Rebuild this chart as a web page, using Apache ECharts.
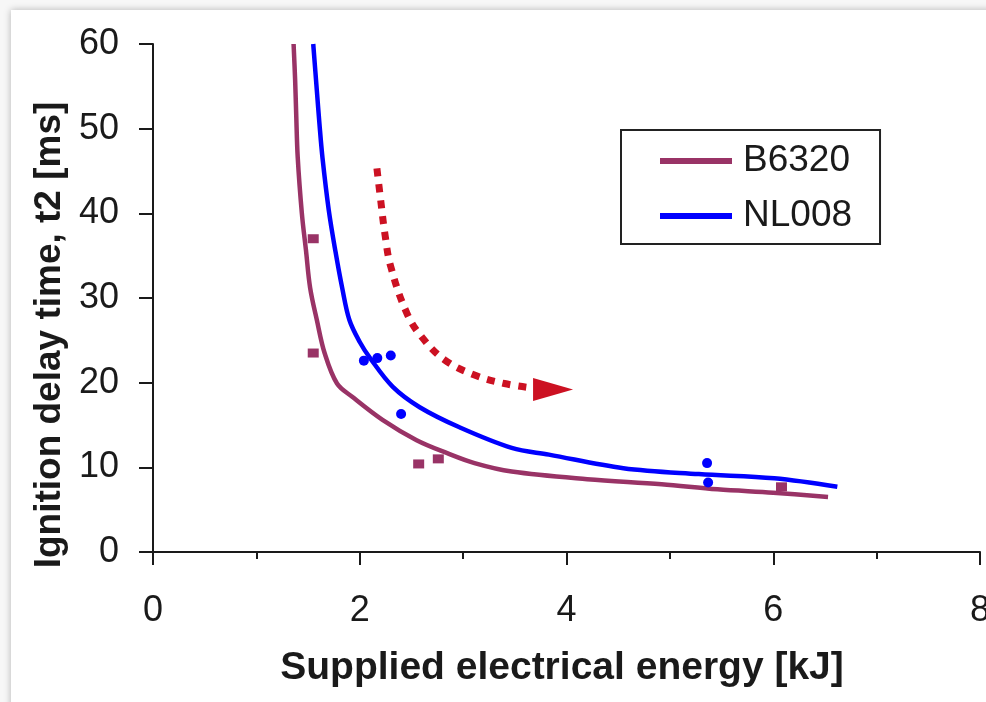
<!DOCTYPE html>
<html>
<head>
<meta charset="utf-8">
<script src="https://cdn.jsdelivr.net/npm/echarts@6/dist/echarts.min.js"></script>
<style>
  html, body { margin: 0; padding: 0; width: 986px; height: 702px; overflow: hidden; background: #f7f7f7; }
  #sheet { position: absolute; left: 11px; top: 10px; width: 1100px; height: 800px; background: #fff;
           box-shadow: 0 0 7px rgba(0, 0, 0, 0.28); }
  #chart { position: absolute; left: 0; top: 0; width: 986px; height: 702px; }
</style>
</head>
<body>
<div id="sheet"></div>
<div id="chart"></div>
<script>
// Fitted curves: ignition delay time t2 [ms] vs supplied electrical energy [kJ]
const b6320Fit = [
  [1.36, 60], [1.375, 55.7], [1.385, 51.8], [1.40, 46.6], [1.44, 40.0], [1.48, 35.6],
  [1.52, 31.2], [1.585, 27.4], [1.66, 23.5], [1.78, 19.9], [1.93, 18.3], [2.22, 15.6],
  [2.55, 13.2], [2.84, 11.7], [3.11, 10.5], [3.47, 9.5], [4.2, 8.6], [4.92, 8.0],
  [5.46, 7.4], [6.0, 7.0], [6.53, 6.5]
];
const nl008Fit = [
  [1.55, 60], [1.585, 54.5], [1.61, 50.6], [1.64, 46.5], [1.70, 40.4], [1.765, 35.5],
  [1.83, 31.2], [1.9, 27.4], [2.0, 24.8], [2.1, 22.9], [2.32, 19.5], [2.58, 17.1],
  [2.97, 14.7], [3.47, 12.3], [3.83, 11.5], [4.55, 9.9], [5.28, 9.2],
  [6.01, 8.7], [6.62, 7.7]
];

// Measured points
const b6320Measured = [[1.55, 37.0], [1.55, 23.5], [2.57, 10.4], [2.76, 11.0], [6.08, 7.7]];
const nl008Measured = [[2.04, 22.6], [2.17, 22.9], [2.30, 23.2], [2.40, 16.3], [5.36, 10.5], [5.37, 8.2]];

// Trend arrow (dotted path and its head)
const trendArrow = [
  [2.166, 45.3], [2.205, 41.3], [2.243, 37.6], [2.30, 33.7], [2.456, 28.2], [2.60, 25.4],
  [2.82, 22.7], [3.11, 20.9], [3.40, 19.9], [3.65, 19.4]
];
const trendArrowHead = [[3.87, 19.2]];

// Axis ranges
const xRange = [0, 8], xStep = 2;
const yRange = [0, 60], yStep = 10;

const seriesNames = ['B6320', 'NL008'];
const seriesColors = ['#993366', '#0000ff'];
const arrowColor = '#cc1122';
const font = '"Liberation Sans", Arial, sans-serif';
const ink = '#1a1a1a';

const chart = echarts.init(document.getElementById('chart'), null, { renderer: 'canvas' });

chart.setOption({
  backgroundColor: 'transparent',
  animation: false,
  grid: { left: 153, right: 6, top: 44, bottom: 150, outerBoundsMode: 'none', containLabel: false },
  xAxis: {
    type: 'value', min: xRange[0], max: xRange[1], interval: xStep,
    axisLine: { lineStyle: { color: ink, width: 2 } },
    axisTick: { length: 13, lineStyle: { color: ink, width: 2 } },
    minorTick: { show: true, splitNumber: 2, length: 7, lineStyle: { color: ink, width: 2 } },
    splitLine: { show: false },
    axisLabel: { fontFamily: font, fontSize: 36, color: ink, margin: 41, showMaxLabel: true }
  },
  yAxis: {
    type: 'value', min: yRange[0], max: yRange[1], interval: yStep,
    axisLine: { lineStyle: { color: ink, width: 2 } },
    axisTick: { length: 14, lineStyle: { color: ink, width: 2 } },
    splitLine: { show: false },
    axisLabel: { fontFamily: font, fontSize: 36, color: ink, margin: 34 }
  },
  legend: {
    data: seriesNames,
    orient: 'vertical',
    left: 621, top: 130,
    padding: [11, 28, 8, 39],
    itemGap: 15,
    itemWidth: 72, itemHeight: 6,
    icon: 'rect',
    borderColor: '#222', borderWidth: 2, borderRadius: 0,
    backgroundColor: '#fff',
    textStyle: { fontFamily: font, fontSize: 37, color: ink, lineHeight: 40, padding: [0, 0, 0, 6] },
    selectedMode: false
  },
  graphic: [
    {
      type: 'text', x: 50, y: 335, rotation: Math.PI / 2,
      style: { text: 'Ignition delay time, t2 [ms]', font: 'bold 37px ' + font, fill: ink,
               align: 'center', verticalAlign: 'middle' }
    },
    {
      type: 'text', x: 562, y: 668,
      style: { text: 'Supplied electrical energy [kJ]', font: 'bold 39px ' + font, fill: ink,
               align: 'center', verticalAlign: 'middle' }
    }
  ],
  series: [
    {
      name: seriesNames[0], type: 'line', data: b6320Fit, smooth: 0.35, smoothMonotone: 'none',
      symbol: 'none', color: seriesColors[0], lineStyle: { color: seriesColors[0], width: 4.5 }, z: 3
    },
    {
      name: seriesNames[1], type: 'line', data: nl008Fit, smooth: 0.35, smoothMonotone: 'none',
      symbol: 'none', color: seriesColors[1], lineStyle: { color: seriesColors[1], width: 4.5 }, z: 3
    },
    {
      name: seriesNames[0], type: 'scatter', data: b6320Measured, symbol: 'rect', symbolSize: [11, 9],
      itemStyle: { color: seriesColors[0], opacity: 1 }, z: 4
    },
    {
      name: seriesNames[1], type: 'scatter', data: nl008Measured, symbol: 'circle', symbolSize: 10,
      itemStyle: { color: seriesColors[1], opacity: 1 }, z: 4
    },
    {
      name: 'trend', type: 'line', data: trendArrow, smooth: 0.4, symbol: 'none', silent: true,
      lineStyle: { color: arrowColor, width: 7, type: [8, 8], cap: 'butt' }, z: 2
    },
    {
      name: 'trend-head', type: 'scatter', data: trendArrowHead, symbol: 'triangle',
      symbolSize: [23, 40], symbolRotate: -90, silent: true,
      itemStyle: { color: arrowColor, opacity: 1 }, z: 2
    }
  ]
});
</script>
</body>
</html>
